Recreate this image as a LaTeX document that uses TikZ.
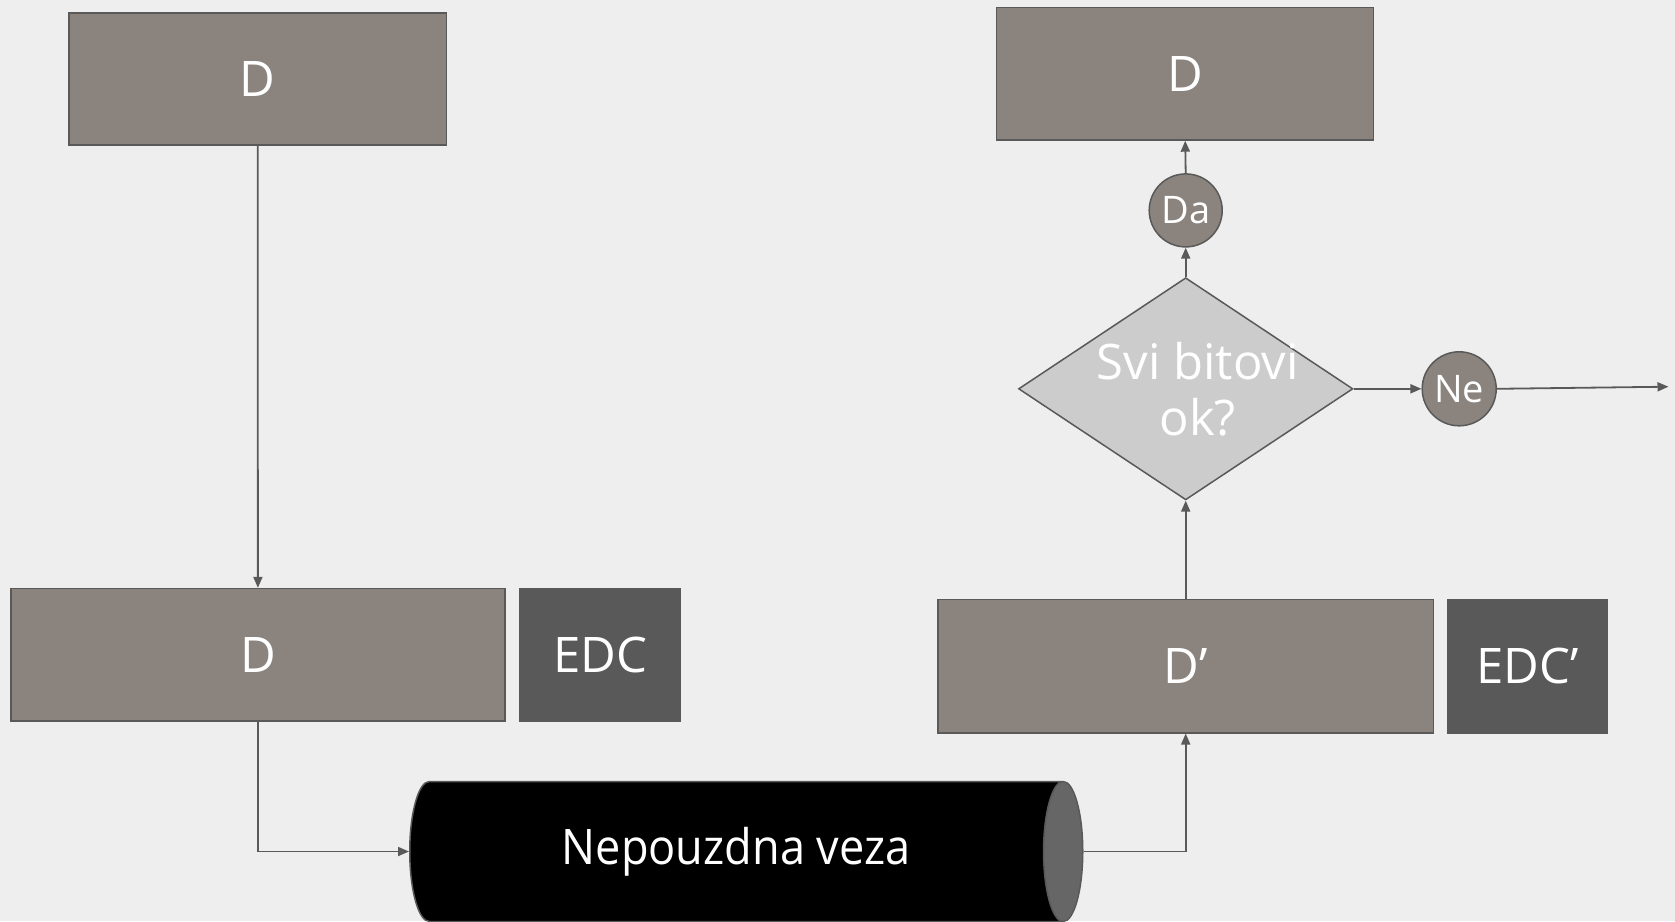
\documentclass[tikz,border=0pt]{standalone}
\usepackage{fontspec}
\setmainfont{Open Sans}
\newfontfamily\condfont{Open Sans}[FakeStretch=0.92]
\usetikzlibrary{shapes.geometric,arrows.meta}
\definecolor{bgc}{HTML}{EEEEEE}
\definecolor{boxc}{HTML}{8B847E}
\definecolor{edcc}{HTML}{595959}
\definecolor{linec}{HTML}{595959}
\definecolor{diac}{HTML}{CCCCCC}
\definecolor{capc}{HTML}{666666}
\tikzset{
  every node/.style={text=white},
  bigtxt/.style={font=\fontsize{49}{56}\selectfont},
  smalltxt/.style={font=\fontsize{38}{44}\selectfont},
  databox/.style={rectangle, draw=linec, line width=1.5pt, fill=boxc, inner sep=0pt, bigtxt},
  edcbox/.style={rectangle, draw=edcc, line width=1.5pt, fill=edcc, inner sep=0pt, bigtxt},
  answer/.style={circle, draw=linec, line width=1.5pt, fill=boxc, inner sep=0pt, minimum size=73pt, smalltxt},
  conn/.style={draw=linec, line width=1.8pt, -{Triangle[length=11pt,width=9pt]}},
}
\begin{document}
\begin{tikzpicture}[x=1pt,y=-1pt]
\useasboundingbox (0,0) rectangle (1675,921);
\fill[bgc] (0,0) rectangle (1675,921);
% left side
\node[databox, minimum width=377.5pt, minimum height=132pt] (d1) at (257.7,79) {D};
\node[databox, minimum width=494.3pt, minimum height=132.4pt] (d2) at (257.9,654.8) {D};
\node[edcbox, minimum width=160pt, minimum height=132.4pt] (edc) at (600,654.8) {EDC};
% cylinder
\node[cylinder, shape aspect=0.8, minimum height=673pt, minimum width=140pt, inner sep=0pt, anchor=west,
      cylinder uses custom fill, cylinder body fill=black, cylinder end fill=capc,
      draw=linec, line width=1.5pt, font=\condfont\fontsize{49}{56}\selectfont] (cyl) at (409,851.5) {Nepouzdna veza};
% right side
\node[databox, minimum width=495.6pt, minimum height=133.5pt] (dp) at (1185.7,666) {D’};
\node[edcbox, minimum width=160pt, minimum height=133.5pt] (edcp) at (1527.5,666) {EDC’};
\node[diamond, draw=linec, line width=1.5pt, fill=diac, minimum width=334.4pt, minimum height=222.2pt, inner sep=0pt] (dia) at (1185.7,388.8) {};
\node[bigtxt, align=center, inner sep=0pt] (diatext) at (1197.7,388.8) {Svi bitovi\\ok?};
\node[answer] (da) at (1185.7,210.4) {Da};
\node[answer, minimum size=74pt] (ne) at (1459.2,388.8) {Ne};
\node[databox, minimum width=377pt, minimum height=132.5pt] (d3) at (1185.2,73.7) {D};
\coordinate (out) at (1668.5,386.7);
% connectors
\draw[conn] (d1.south) -- (d2.north);
\draw[conn] (d2.south) |- (cyl.west);
\draw[conn] (cyl.east) -| (dp.south);
\draw[conn] (dp.north) -- (dia.south);
\draw[conn] (dia.north) -- (da.south);
\draw[conn] (da.north) -- (d3.south);
\draw[conn] (dia.east) -- (ne.west);
\draw[conn] (ne.east) -- (out);
\end{tikzpicture}
\end{document}
